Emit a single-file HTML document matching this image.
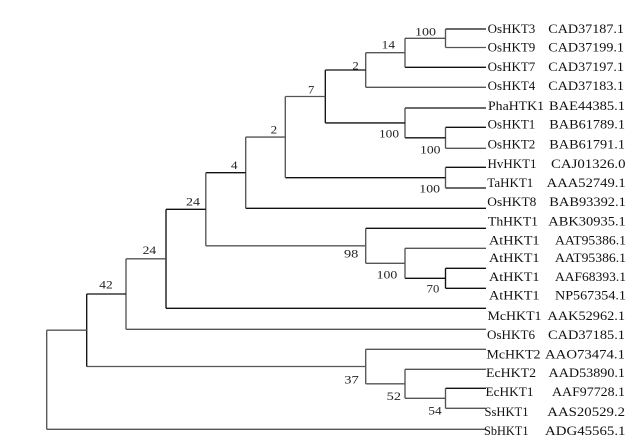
<!DOCTYPE html>
<html>
<head>
<meta charset="utf-8">
<style>
html,body{margin:0;padding:0;background:#fff;}
svg{display:block;}
text{font-family:"Liberation Serif","Times New Roman",serif;fill:#111;}
.lf{font-size:12.5px;}
.bs{font-size:11.5px;fill:#222;}
.k{stroke:#111;stroke-width:1.35;fill:none;}
.g{stroke:#555;stroke-width:1.35;fill:none;}
</style>
</head>
<body>
<svg width="640" height="444" viewBox="0 0 640 444" xmlns="http://www.w3.org/2000/svg">
<rect width="640" height="444" fill="#fff"/>

<!-- N100a OsHKT3/9 -->
<line class="k" x1="445.5" y1="29" x2="486" y2="29"/>
<line class="g" x1="445.5" y1="47.5" x2="486" y2="47.5"/>
<line class="g" x1="445.5" y1="29" x2="445.5" y2="47.5"/>
<!-- N14 -->
<line class="g" x1="405" y1="38.3" x2="445.5" y2="38.3"/>
<line class="k" x1="405" y1="67.3" x2="486" y2="67.3"/>
<line class="g" x1="405" y1="38.3" x2="405" y2="67.3"/>
<!-- N2a -->
<line class="g" x1="365.7" y1="52.7" x2="405" y2="52.7"/>
<line class="g" x1="365.7" y1="87.3" x2="486" y2="87.3"/>
<line class="g" x1="365.7" y1="52.7" x2="365.7" y2="87.3"/>
<!-- N100b OsHKT1/2 -->
<line class="k" x1="445.5" y1="127.3" x2="486" y2="127.3"/>
<line class="g" x1="445.5" y1="148.3" x2="486" y2="148.3"/>
<line class="g" x1="445.5" y1="127.3" x2="445.5" y2="148.3"/>
<!-- N100c -->
<line class="k" x1="405" y1="108" x2="486" y2="108"/>
<line class="k" x1="405" y1="137.8" x2="445.5" y2="137.8"/>
<line class="g" x1="405" y1="108" x2="405" y2="137.8"/>
<!-- N7 -->
<line class="k" x1="325.3" y1="70" x2="365.7" y2="70"/>
<line class="k" x1="325.3" y1="122.9" x2="405" y2="122.9"/>
<line class="k" x1="325.3" y1="70" x2="325.3" y2="122.9"/>
<!-- N100d Hv/Ta -->
<line class="k" x1="445.5" y1="167.3" x2="486" y2="167.3"/>
<line class="k" x1="445.5" y1="188" x2="486" y2="188"/>
<line class="g" x1="445.5" y1="167.3" x2="445.5" y2="188"/>
<!-- N2b -->
<line class="g" x1="285.3" y1="96.5" x2="325.3" y2="96.5"/>
<line class="k" x1="285.3" y1="177.7" x2="445.5" y2="177.7"/>
<line class="g" x1="285.3" y1="96.5" x2="285.3" y2="177.7"/>
<!-- N4 -->
<line class="g" x1="245.7" y1="137.1" x2="285.3" y2="137.1"/>
<line class="k" x1="245.7" y1="208.3" x2="486" y2="208.3"/>
<line class="g" x1="245.7" y1="137.1" x2="245.7" y2="208.3"/>
<!-- N70 -->
<line class="k" x1="445.5" y1="268.3" x2="486" y2="268.3"/>
<line class="k" x1="445.5" y1="288.3" x2="486" y2="288.3"/>
<line class="k" x1="445.5" y1="268.3" x2="445.5" y2="288.3"/>
<!-- N100e -->
<line class="g" x1="405" y1="248.3" x2="486" y2="248.3"/>
<line class="k" x1="405" y1="278.3" x2="445.5" y2="278.3"/>
<line class="g" x1="405" y1="248.3" x2="405" y2="278.3"/>
<!-- N98 -->
<line class="k" x1="365.7" y1="228.3" x2="486" y2="228.3"/>
<line class="g" x1="365.7" y1="263.3" x2="405" y2="263.3"/>
<line class="g" x1="365.7" y1="228.3" x2="365.7" y2="263.3"/>
<!-- N24a -->
<line class="k" x1="205.8" y1="172.7" x2="245.7" y2="172.7"/>
<line class="g" x1="205.8" y1="245.8" x2="365.7" y2="245.8"/>
<line class="g" x1="205.8" y1="172.7" x2="205.8" y2="245.8"/>
<!-- N24b -->
<line class="k" x1="166" y1="209.3" x2="205.8" y2="209.3"/>
<line class="k" x1="166" y1="308.3" x2="486" y2="308.3"/>
<line class="k" x1="166" y1="209.3" x2="166" y2="308.3"/>
<!-- N42 -->
<line class="g" x1="126" y1="258.8" x2="166" y2="258.8"/>
<line class="g" x1="126" y1="329.3" x2="486" y2="329.3"/>
<line class="g" x1="126" y1="258.8" x2="126" y2="329.3"/>
<!-- N54 -->
<line class="k" x1="445.5" y1="388.3" x2="486" y2="388.3"/>
<line class="g" x1="445.5" y1="408.3" x2="486" y2="408.3"/>
<line class="g" x1="445.5" y1="388.3" x2="445.5" y2="408.3"/>
<!-- N52 -->
<line class="g" x1="405" y1="369.3" x2="486" y2="369.3"/>
<line class="g" x1="405" y1="398.3" x2="445.5" y2="398.3"/>
<line class="g" x1="405" y1="369.3" x2="405" y2="398.3"/>
<!-- N37 -->
<line class="g" x1="365.7" y1="349.3" x2="486" y2="349.3"/>
<line class="g" x1="365.7" y1="383.8" x2="405" y2="383.8"/>
<line class="g" x1="365.7" y1="349.3" x2="365.7" y2="383.8"/>
<!-- Nx -->
<line class="k" x1="86.7" y1="294" x2="126" y2="294"/>
<line class="g" x1="86.7" y1="366.5" x2="365.7" y2="366.5"/>
<line class="k" x1="86.7" y1="294" x2="86.7" y2="366.5"/>
<!-- root -->
<line class="g" x1="46.7" y1="330.2" x2="86.7" y2="330.2"/>
<line class="g" x1="46.7" y1="429.3" x2="486" y2="429.3"/>
<line class="g" x1="46.7" y1="330.2" x2="46.7" y2="429.3"/>

<!-- bootstrap labels -->
<text class="bs" x="415" y="35.5" textLength="21" lengthAdjust="spacingAndGlyphs">100</text>
<text class="bs" x="381.7" y="48.3" textLength="13.3" lengthAdjust="spacingAndGlyphs">14</text>
<text class="bs" x="352.5" y="69.3" textLength="6.2" lengthAdjust="spacingAndGlyphs">2</text>
<text class="bs" x="308" y="93.3" textLength="6.3" lengthAdjust="spacingAndGlyphs">7</text>
<text class="bs" x="379" y="137.3" textLength="20" lengthAdjust="spacingAndGlyphs">100</text>
<text class="bs" x="420" y="153.3" textLength="20.5" lengthAdjust="spacingAndGlyphs">100</text>
<text class="bs" x="270.7" y="133.3" textLength="6.5" lengthAdjust="spacingAndGlyphs">2</text>
<text class="bs" x="231" y="169" textLength="6.5" lengthAdjust="spacingAndGlyphs">4</text>
<text class="bs" x="186" y="205.7" textLength="14" lengthAdjust="spacingAndGlyphs">24</text>
<text class="bs" x="142.7" y="254" textLength="13.5" lengthAdjust="spacingAndGlyphs">24</text>
<text class="bs" x="99.3" y="288.3" textLength="13.4" lengthAdjust="spacingAndGlyphs">42</text>
<text class="bs" x="419.3" y="192.3" textLength="20.7" lengthAdjust="spacingAndGlyphs">100</text>
<text class="bs" x="344" y="257.3" textLength="14.3" lengthAdjust="spacingAndGlyphs">98</text>
<text class="bs" x="376.7" y="278.3" textLength="20.6" lengthAdjust="spacingAndGlyphs">100</text>
<text class="bs" x="426.7" y="292.7" textLength="12.6" lengthAdjust="spacingAndGlyphs">70</text>
<text class="bs" x="344.3" y="383.3" textLength="14.5" lengthAdjust="spacingAndGlyphs">37</text>
<text class="bs" x="386.7" y="400" textLength="14.3" lengthAdjust="spacingAndGlyphs">52</text>
<text class="bs" x="428.3" y="414.3" textLength="13.4" lengthAdjust="spacingAndGlyphs">54</text>

<!-- leaf labels -->
<text class="lf" x="487.7" y="32.9" textLength="47.6" lengthAdjust="spacingAndGlyphs">OsHKT3</text>
<text class="lf" x="548.3" y="32.9" textLength="75.7" lengthAdjust="spacingAndGlyphs">CAD37187.1</text>
<text class="lf" x="487.7" y="51.5" textLength="47.6" lengthAdjust="spacingAndGlyphs">OsHKT9</text>
<text class="lf" x="548.3" y="51.5" textLength="75.7" lengthAdjust="spacingAndGlyphs">CAD37199.1</text>
<text class="lf" x="487.7" y="70.9" textLength="47.6" lengthAdjust="spacingAndGlyphs">OsHKT7</text>
<text class="lf" x="548.3" y="70.9" textLength="75.7" lengthAdjust="spacingAndGlyphs">CAD37197.1</text>
<text class="lf" x="487.7" y="89.9" textLength="47.6" lengthAdjust="spacingAndGlyphs">OsHKT4</text>
<text class="lf" x="548.3" y="89.9" textLength="75.7" lengthAdjust="spacingAndGlyphs">CAD37183.1</text>
<text class="lf" x="488" y="110.2" textLength="56" lengthAdjust="spacingAndGlyphs">PhaHTK1</text>
<text class="lf" x="549" y="110.2" textLength="76" lengthAdjust="spacingAndGlyphs">BAE44385.1</text>
<text class="lf" x="487.7" y="128.4" textLength="47.6" lengthAdjust="spacingAndGlyphs">OsHKT1</text>
<text class="lf" x="549.3" y="128.4" textLength="75.7" lengthAdjust="spacingAndGlyphs">BAB61789.1</text>
<text class="lf" x="487.7" y="148.3" textLength="47.6" lengthAdjust="spacingAndGlyphs">OsHKT2</text>
<text class="lf" x="549.3" y="148.3" textLength="75.7" lengthAdjust="spacingAndGlyphs">BAB61791.1</text>
<text class="lf" x="487.5" y="167.8" textLength="49" lengthAdjust="spacingAndGlyphs">HvHKT1</text>
<text class="lf" x="551" y="167.8" textLength="74.5" lengthAdjust="spacingAndGlyphs">CAJ01326.0</text>
<text class="lf" x="487.3" y="186.9" textLength="46" lengthAdjust="spacingAndGlyphs">TaHKT1</text>
<text class="lf" x="546.7" y="186.9" textLength="79" lengthAdjust="spacingAndGlyphs">AAA52749.1</text>
<text class="lf" x="487.3" y="206.1" textLength="49" lengthAdjust="spacingAndGlyphs">OsHKT8</text>
<text class="lf" x="549.3" y="206.1" textLength="76.5" lengthAdjust="spacingAndGlyphs">BAB93392.1</text>
<text class="lf" x="488" y="225.3" textLength="50" lengthAdjust="spacingAndGlyphs">ThHKT1</text>
<text class="lf" x="548.3" y="225.3" textLength="77.5" lengthAdjust="spacingAndGlyphs">ABK30935.1</text>
<text class="lf" x="489" y="244.4" textLength="50.5" lengthAdjust="spacingAndGlyphs">AtHKT1</text>
<text class="lf" x="555" y="244.4" textLength="71" lengthAdjust="spacingAndGlyphs">AAT95386.1</text>
<text class="lf" x="489" y="262.2" textLength="50.5" lengthAdjust="spacingAndGlyphs">AtHKT1</text>
<text class="lf" x="555" y="262.2" textLength="71" lengthAdjust="spacingAndGlyphs">AAT95386.1</text>
<text class="lf" x="489" y="280.8" textLength="50.5" lengthAdjust="spacingAndGlyphs">AtHKT1</text>
<text class="lf" x="555" y="280.8" textLength="71" lengthAdjust="spacingAndGlyphs">AAF68393.1</text>
<text class="lf" x="489" y="299.6" textLength="50.5" lengthAdjust="spacingAndGlyphs">AtHKT1</text>
<text class="lf" x="555" y="299.6" textLength="71" lengthAdjust="spacingAndGlyphs">NP567354.1</text>
<text class="lf" x="487.5" y="319.9" textLength="54" lengthAdjust="spacingAndGlyphs">McHKT1</text>
<text class="lf" x="547.5" y="319.9" textLength="77.5" lengthAdjust="spacingAndGlyphs">AAK52962.1</text>
<text class="lf" x="487" y="339.2" textLength="48" lengthAdjust="spacingAndGlyphs">OsHKT6</text>
<text class="lf" x="548" y="339.2" textLength="77" lengthAdjust="spacingAndGlyphs">CAD37185.1</text>
<text class="lf" x="486.5" y="358.5" textLength="54" lengthAdjust="spacingAndGlyphs">McHKT2</text>
<text class="lf" x="545" y="358.5" textLength="80" lengthAdjust="spacingAndGlyphs">AAO73474.1</text>
<text class="lf" x="486" y="376.9" textLength="50" lengthAdjust="spacingAndGlyphs">EcHKT2</text>
<text class="lf" x="548.5" y="376.9" textLength="76.5" lengthAdjust="spacingAndGlyphs">AAD53890.1</text>
<text class="lf" x="485.5" y="395.9" textLength="48" lengthAdjust="spacingAndGlyphs">EcHKT1</text>
<text class="lf" x="552" y="395.9" textLength="73" lengthAdjust="spacingAndGlyphs">AAF97728.1</text>
<text class="lf" x="484.5" y="415.9" textLength="44" lengthAdjust="spacingAndGlyphs">SsHKT1</text>
<text class="lf" x="547.3" y="415.9" textLength="77.7" lengthAdjust="spacingAndGlyphs">AAS20529.2</text>
<text class="lf" x="484" y="434.9" textLength="44.5" lengthAdjust="spacingAndGlyphs">SbHKT1</text>
<text class="lf" x="545" y="434.9" textLength="80.5" lengthAdjust="spacingAndGlyphs">ADG45565.1</text>
</svg>
</body>
</html>
